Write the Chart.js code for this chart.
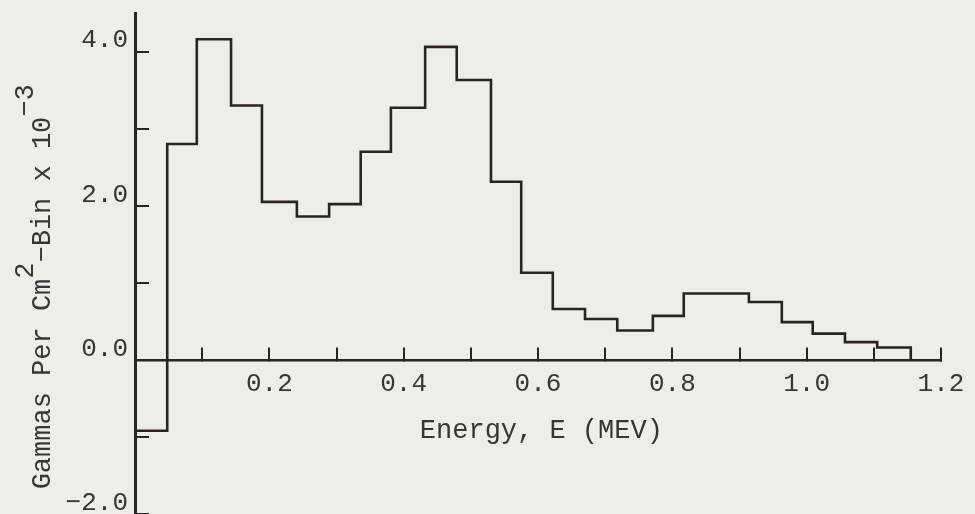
<!DOCTYPE html>
<html>
<head>
<meta charset="utf-8">
<script src="https://cdn.jsdelivr.net/npm/chart.js@4/dist/chart.umd.min.js"></script>
<style>
  html, body { margin: 0; padding: 0; background: #eeede7; }
  canvas { display: block; }
</style>
</head>
<body>
<canvas id="spectrum" width="975" height="514"></canvas>
<script>
// Energy bin edges (MeV) of the gamma spectrum histogram
const binEdges = [0, 0.048, 0.092, 0.143, 0.189, 0.241, 0.289, 0.336, 0.381, 0.432,
                  0.479, 0.530, 0.575, 0.622, 0.670, 0.718, 0.771, 0.817, 0.866,
                  0.914, 0.963, 1.009, 1.057, 1.105, 1.155];
// Gammas per cm^2 per bin (x 10^-3), one value per bin
const binValues = [-0.92, 2.80, 4.16, 3.30, 2.05, 1.86, 2.02, 2.70, 3.27, 4.06,
                   3.63, 2.31, 1.13, 0.66, 0.53, 0.38, 0.57, 0.86, 0.86, 0.75,
                   0.49, 0.34, 0.23, 0.16];

const xTickValues = [0.1, 0.2, 0.3, 0.4, 0.5, 0.6, 0.7, 0.8, 0.9, 1.0, 1.1, 1.2];
const xTickLabels = ['', '0.2', '', '0.4', '', '0.6', '', '0.8', '', '1.0', '', '1.2'];
const yTickValues = [-2, -1, 0, 1, 2, 3, 4];
const yTickLabels = ['\u22122.0', '', '0.0', '', '2.0', '', '4.0'];

const xTitle = 'Energy, E (MEV)';
// [text, raised]
const yTitleParts = [['Gammas Per Cm', false], ['2', true], ['\u2212Bin x 10', false], ['\u22123', true]];

const PAPER = '#eeede7';
const INK = '#2a2323';
const TEXT = '#3a3434';
const FONT = '"Liberation Mono", "Courier New", monospace';

// Step outline: each bin holds its value from its left edge; the last edge drops back to zero
const stepPoints = binEdges.map((e, i) => ({ x: e, y: i < binValues.length ? binValues[i] : 0 }));

const paperAndTitles = {
  id: 'paperAndTitles',
  beforeDraw(chart) {
    const ctx = chart.ctx;
    ctx.save();
    ctx.fillStyle = PAPER;
    ctx.fillRect(0, 0, chart.width, chart.height);
    ctx.restore();
  },
  afterDraw(chart) {
    const ctx = chart.ctx;
    const xs = chart.scales.x;
    const ys = chart.scales.y;
    ctx.save();
    ctx.fillStyle = TEXT;
    ctx.font = '27px ' + FONT;
    ctx.textBaseline = 'alphabetic';

    // x-axis title
    ctx.textAlign = 'center';
    ctx.fillText(xTitle, xs.getPixelForValue(0.605), ys.getPixelForValue(0) + 78);

    // y-axis title, rotated, with raised exponents
    ctx.textAlign = 'left';
    ctx.translate(50, ys.getPixelForValue(-1.68));
    ctx.rotate(-Math.PI / 2);
    let pos = 0;
    for (const [text, raised] of yTitleParts) {
      ctx.fillText(text, pos, raised ? -17 : 0);
      pos += ctx.measureText(text).width;
    }
    ctx.restore();
  }
};

new Chart(document.getElementById('spectrum'), {
  type: 'line',
  data: {
    datasets: [{
      data: stepPoints,
      stepped: 'before',
      borderColor: INK,
      borderWidth: 2.6,
      pointRadius: 0,
      fill: false
    }]
  },
  options: {
    responsive: false,
    animation: false,
    layout: { padding: { left: 0, top: 13, right: 34, bottom: 0 } },
    plugins: { legend: { display: false }, tooltip: { enabled: false } },
    scales: {
      x: {
        type: 'linear',
        min: 0,
        max: 1.2,
        position: { y: 0 },
        afterBuildTicks: s => { s.ticks = xTickValues.map(v => ({ value: v })); },
        afterFit: s => { s.paddingLeft = 0; s.paddingRight = 0; },
        grid: { drawOnChartArea: false, drawTicks: true, tickLength: -14, color: INK, lineWidth: 2 },
        border: { display: true, color: INK, width: 2.5 },
        ticks: {
          autoSkip: false,
          maxRotation: 0,
          padding: 23,
          color: TEXT,
          font: { family: FONT, size: 26 },
          callback: (v, i) => xTickLabels[i]
        }
      },
      y: {
        type: 'linear',
        min: -2,
        max: 4.5,
        position: 'left',
        afterBuildTicks: s => { s.ticks = yTickValues.map(v => ({ value: v })); },
        afterFit: s => { s.width = 135; s.paddingTop = 0; s.paddingBottom = 0; },
        grid: { drawOnChartArea: false, drawTicks: true, tickLength: -14, color: INK, lineWidth: 2 },
        border: { display: true, color: INK, width: 3 },
        ticks: {
          autoSkip: false,
          padding: 21,
          labelOffset: -11,
          color: TEXT,
          font: { family: FONT, size: 26 },
          callback: (v, i) => yTickLabels[i]
        }
      }
    }
  },
  plugins: [paperAndTitles]
});
</script>
</body>
</html>
